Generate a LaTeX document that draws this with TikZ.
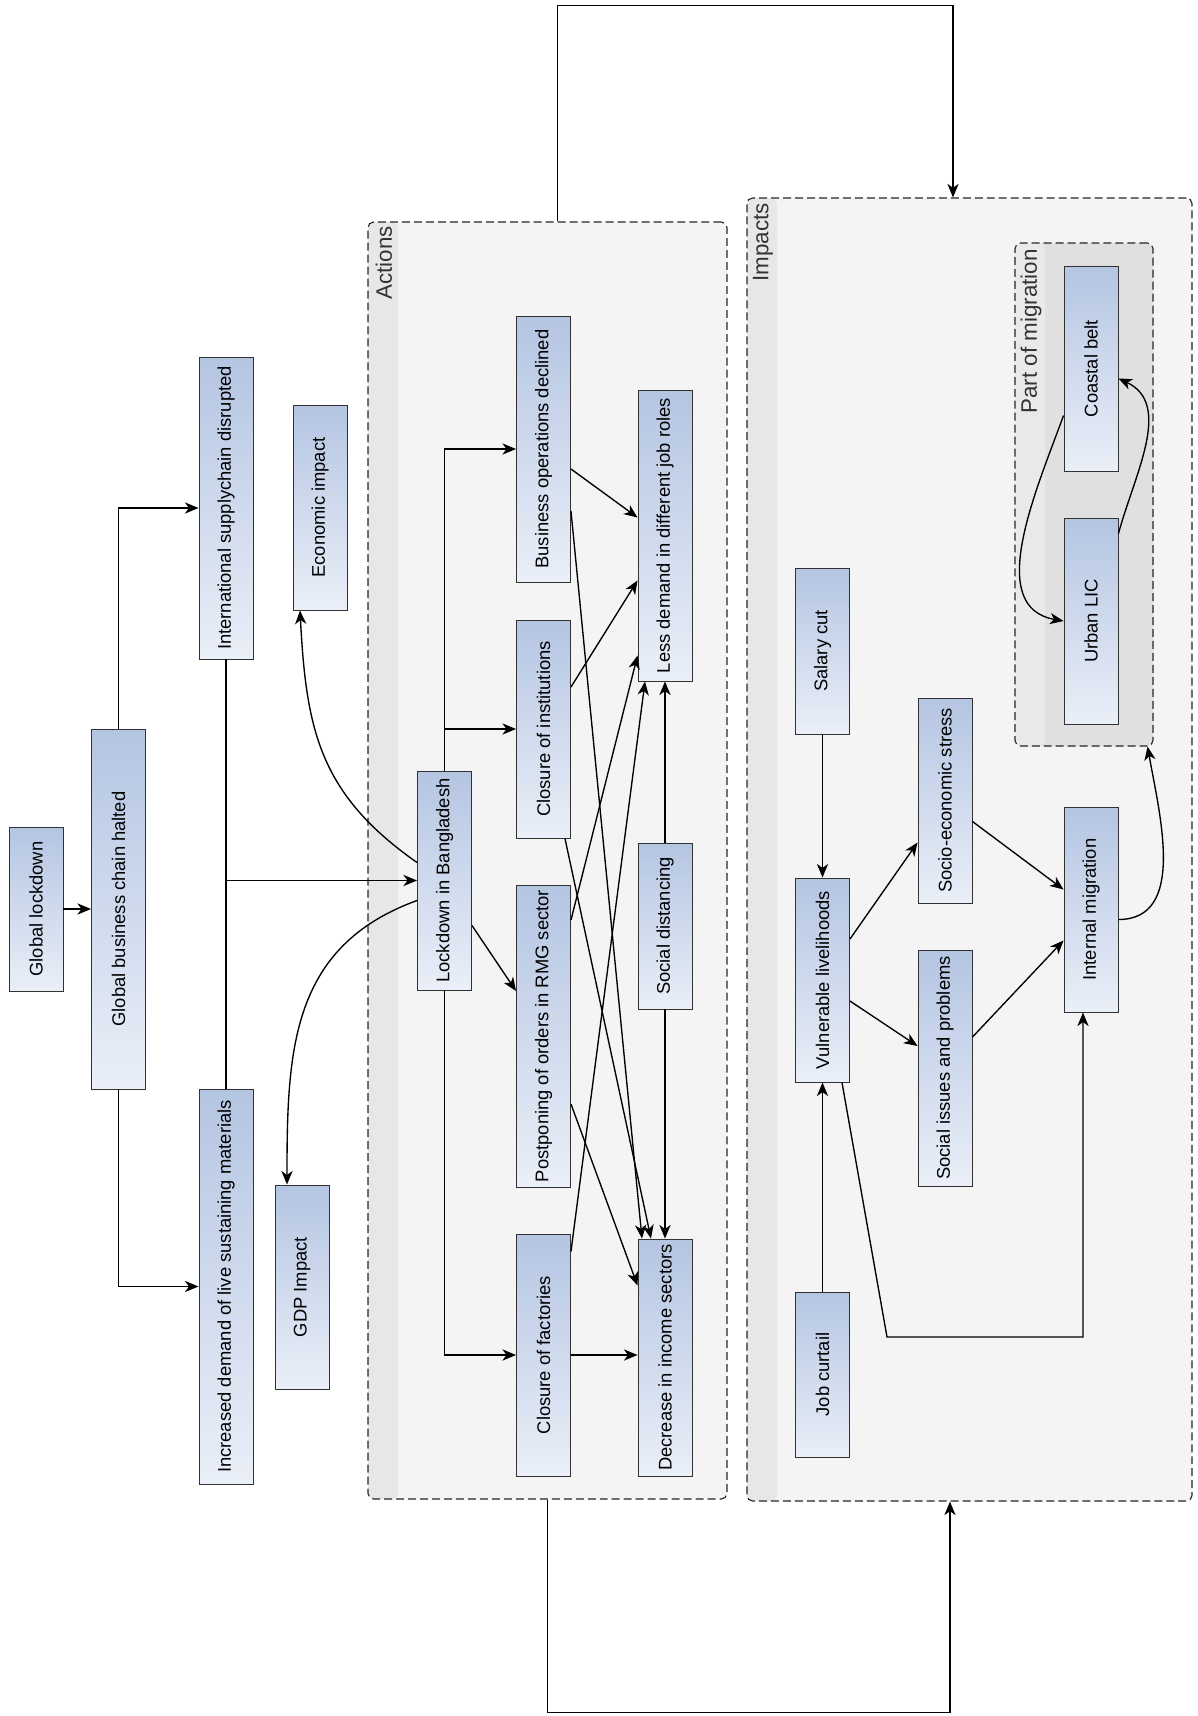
\documentclass[tikz,border=0pt]{standalone}
\usepackage{graphicx}
\usepackage{fontspec}
\setmainfont{Liberation Sans}
\usetikzlibrary{arrows.meta,calc}

\definecolor{boxtop}{RGB}{180,197,226}
\definecolor{boxbot}{RGB}{234,239,248}
\definecolor{boxline}{RGB}{50,50,50}
\definecolor{groupfill}{RGB}{244,244,244}
\definecolor{groupstripe}{RGB}{231,231,231}
\definecolor{subfill}{RGB}{224,224,224}
\definecolor{substripe}{RGB}{233,233,233}

\newcommand{\vlabel}[1]{\rotatebox{90}{#1}}

\tikzset{
  factor/.style={draw=boxline, line width=0.6pt, top color=boxtop, bottom color=boxbot,
    minimum width=54*0.022cm, inner sep=0pt, font=\fontsize{11.5}{13}\selectfont},
  tall/.style={minimum height=#1*0.022cm},
  wide/.style={minimum width=#1*0.022cm},
  group/.style 2 args={draw=black!85, dash pattern=on 5pt off 2.5pt, line width=0.7pt,
    rounded corners=3.5pt, fill=#1, inner sep=0pt,
    path picture={\fill[#2] (path picture bounding box.north west) rectangle ([xshift=0.66cm]path picture bounding box.south west);}},
  grouplabel/.style={rotate=90, anchor=east, inner sep=0pt, text=black!80, font=\fontsize{14}{16}\selectfont},
  link/.style={->, line width=0.85pt},
}

\begin{document}
\begin{tikzpicture}[x=0.022cm, y=-0.022cm, >={Stealth[length=8.5pt,width=7pt,inset=2.5pt]}]
  \useasboundingbox (0,0) rectangle (1197,1716);

  % groups
  \node[group={groupfill}{groupstripe}, wide=359, tall=1277] (actions) at (547.5,860.5) {};
  \node[group={groupfill}{groupstripe}, wide=445, tall=1303] (impacts) at (969.5,849.5) {};
  \node[group={subfill}{substripe}, wide=138, tall=503] (migration) at (1084,494.5) {};
  \node[grouplabel] (actionslabel) at (384,226) {Actions};
  \node[grouplabel] (impactslabel) at (763,203) {Impacts};
  \node[grouplabel] (migrationlabel) at (1031,249) {Part of migration};

  % causes
  \node[factor, tall=164] (gl) at (36,909) {\vlabel{Global lockdown}};
  \node[factor, tall=360] (gbch) at (118.5,909) {\vlabel{Global business chain halted}};
  \node[factor, tall=302] (isd) at (226,508) {\vlabel{International supplychain disrupted}};
  \node[factor, tall=395] (idlsm) at (226,1286.5) {\vlabel{Increased demand of live sustaining materials}};
  \node[factor, tall=205] (ei) at (320,507.5) {\vlabel{Economic impact}};
  \node[factor, tall=204] (gdp) at (302,1287) {\vlabel{GDP Impact}};

  % actions
  \node[factor, tall=219] (lib) at (444.5,880.5) {\vlabel{Lockdown in Bangladesh}};
  \node[factor, tall=266] (bod) at (543.5,449) {\vlabel{Business operations declined}};
  \node[factor, tall=218] (coi) at (543.5,729) {\vlabel{Closure of institutions}};
  \node[factor, tall=302] (porm) at (543.5,1036) {\vlabel{Postponing of orders in RMG sector}};
  \node[factor, tall=242] (cof) at (543.5,1355) {\vlabel{Closure of factories}};
  \node[factor, tall=291] (ldjr) at (665,535.5) {\vlabel{Less demand in different job roles}};
  \node[factor, tall=166] (sd) at (665,926) {\vlabel{Social distancing}};
  \node[factor, tall=237] (dis) at (665,1357.5) {\vlabel{Decrease in income sectors}};

  % impacts
  \node[factor, tall=166] (sc) at (822.5,651) {\vlabel{Salary cut}};
  \node[factor, tall=204] (vl) at (822.5,980) {\vlabel{Vulnerable livelihoods}};
  \node[factor, tall=165] (jc) at (822.5,1374.5) {\vlabel{Job curtail}};
  \node[factor, tall=205] (ses) at (945,800.5) {\vlabel{Socio-economic stress}};
  \node[factor, tall=236] (sip) at (945,1068) {\vlabel{Social issues and problems}};
  \node[factor, tall=205] (im) at (1091,909.5) {\vlabel{Internal migration}};
  \node[factor, tall=205] (cb) at (1091,368.5) {\vlabel{Coastal belt}};
  \node[factor, tall=206] (ulic) at (1091,621) {\vlabel{Urban LIC}};
  \coordinate (vlbend) at (887,1337);

  \draw[link] (gl) -- (gbch);
  \draw[link] (gbch.north) |- (isd.west);
  \draw[link] (gbch.south) |- (idlsm.west);
  \draw[line width=0.85pt] (isd) -- (idlsm);
  \draw[link] (isd.south |- lib.west) -- (lib.west);
  \draw[link] ($(lib.west)+(0,-18)$) to[out=145,in=-87,looseness=1.1] ($(ei.south)+(-20,0)$);
  \draw[link] ($(lib.west)+(0,20)$) to[out=200,in=90,looseness=1.1] ($(gdp.north)+(-15,0)$);

  \draw[link] (lib.north) |- (bod.west);
  \draw[link] (lib.north) |- (coi.west);
  \draw[link] (lib.south) |- (cof.west);
  \draw[link] ($(lib.east)+(0,45)$) -- ($(porm.west)+(0,-45)$);
  \draw[link] ($(bod.east)+(0,20)$) -- ($(ldjr.west)+(0,-18)$);
  \draw[link] ($(bod.east)+(0,62)$) -- ($(dis.north)+(-23,0)$);
  \draw[link] ($(coi.east)+(0,-42)$) -- ($(ldjr.west)+(0,45)$);
  \draw[link] ($(coi.south east)+(-6,0)$) -- ($(dis.north)+(-14,0)$);
  \draw[link] ($(porm.east)+(0,-116)$) -- ($(ldjr.west)+(0,120)$);
  \draw[link] ($(porm.east)+(0,68)$) -- ($(dis.west)+(0,-72)$);
  \draw[link] ($(cof.north east)+(0,18)$) -- ($(ldjr.south)+(-20,0)$);
  \draw[link] (cof.east) -- (cof.east -| dis.west);
  \draw[link] (sd) -- (ldjr);
  \draw[link] (sd) -- (dis);

  \draw[link] (sc) -- (vl);
  \draw[link] (jc) -- (vl);
  \draw[link] ($(vl.east)+(0,-41)$) -- ($(ses.west)+(0,42)$);
  \draw[link] ($(vl.east)+(0,21)$) -- ($(sip.west)+(0,-22)$);
  \draw[link] ($(ses.east)+(0,21)$) -- ($(im.west)+(0,-20)$);
  \draw[link] ($(sip.east)+(0,-31)$) -- ($(im.west)+(0,31)$);
  \draw[link] ($(vl.south east)+(-8,0)$) -- (vlbend) -| ($(im.south)+(-8,0)$);
  \draw[link] ($(im.east)+(0,10)$) to[out=0,in=-80] ($(migration.south east)+(-6,0)$);
  \draw[link] ($(cb.west)+(0,47)$) to[out=-110,in=170] (ulic.west);
  \draw[link] ($(ulic.north east)+(0,16)$) to[out=75,in=-25] ($(cb.east)+(0,10)$);

  \draw[link] ($(actions.north)+(10,0)$) -- ++(0,-216) -| ($(impacts.north)+(-16.5,0)$);
  \draw[link] (actions.south) -- ++(0,213) -| ($(impacts.south)+(-19.5,0)$);
\end{tikzpicture}
\end{document}
